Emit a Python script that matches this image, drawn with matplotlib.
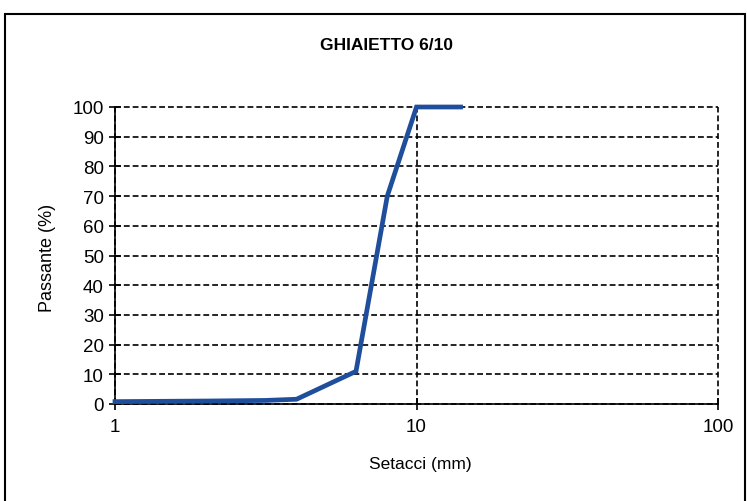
import matplotlib
matplotlib.use("Agg")
import matplotlib.pyplot as plt
from matplotlib.patches import Rectangle
from matplotlib.ticker import FixedLocator, NullLocator

plt.rcParams['font.family'] = ['Liberation Sans', 'DejaVu Sans']

title = "GHIAIETTO 6/10"
xlabel = "Setacci (mm)"
ylabel = "Passante (%)"
sieve_mm = [1, 2, 3.15, 4, 6.3, 8, 10, 14]
passing = [0.8, 1.0, 1.2, 1.6, 11, 70, 100, 100]
x_ticks = [1, 10, 100]
x_tick_labels = ["1", "10", "100"]
y_ticks = list(range(0, 101, 10))

fig = plt.figure(figsize=(7.47, 5.02), dpi=100)
ax = fig.add_axes([115/747, 1-405/502, (718-115)/747, (405-108)/502])

ax.plot(sieve_mm, passing, color='#1f4f9c', lw=3.4, solid_joinstyle='miter', zorder=3, clip_on=False)

ax.set_xscale('log')
ax.set_xlim(1, 100)
ax.set_ylim(0, 100)
ax.xaxis.set_major_locator(FixedLocator(x_ticks))
ax.xaxis.set_minor_locator(NullLocator())
ax.set_xticklabels(x_tick_labels)
ax.set_yticks(y_ticks)

ax.grid(True, which='major', color='black', linestyle=(0, (3.5, 1.8)), lw=1.2)
ax.set_axisbelow(True)
for gl in ax.get_xgridlines() + ax.get_ygridlines():
    gl.set_clip_on(False)
for s in ['top', 'right']:
    ax.spines[s].set_visible(False)
for s in ['left', 'bottom']:
    ax.spines[s].set_linewidth(1.2)
    ax.spines[s].set_zorder(2.5)
ax.tick_params(axis='both', direction='inout', length=8, width=1.2, labelsize=13.5, colors='black')
ax.tick_params(axis='x', pad=6)
ax.tick_params(axis='y', pad=4)

fig.text(386/747, 1-45/502, title, ha='center', va='center', fontsize=12.5, fontweight='bold')
fig.text(420/747, 1-465/502, xlabel, ha='center', va='center', fontsize=12.5)
fig.text(48/747, 1-258/502, ylabel, ha='center', va='center', fontsize=13, rotation=90)

fig.patches.append(Rectangle((5/747, -0.05), (745-5)/747, 1.05 - 15/502, transform=fig.transFigure,
                             fill=False, edgecolor='black', lw=1.5))

fig.savefig('out.png', dpi=100)
